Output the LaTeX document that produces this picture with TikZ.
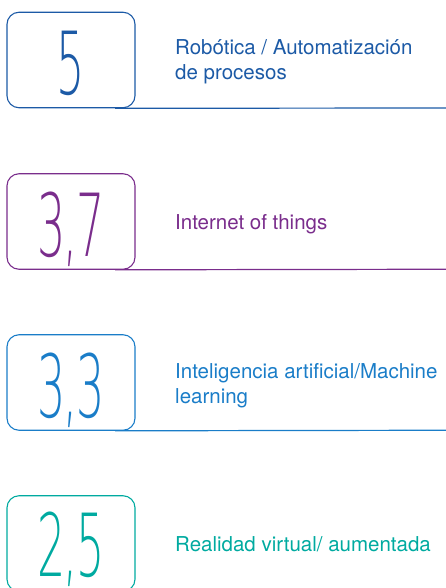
\documentclass[tikz,border=0pt]{standalone}
\usepackage{fontspec}
\usepackage{graphicx}
\setmainfont{TeX Gyre Heros}
\IfFontExistsTF{FiraSans-Thin.otf}
  {\newfontfamily\numfont{FiraSans-Thin.otf}}
  {\IfFontExistsTF{DejaVuSans-ExtraLight.ttf}
    {\newfontfamily\numfont{DejaVuSans-ExtraLight.ttf}}
    {\newfontfamily\numfont{Liberation Sans}}}
\newfontfamily\labfont{TeX Gyre Heros}
\definecolor{cA}{HTML}{1C5AA6}
\definecolor{cB}{HTML}{7A2D8C}
\definecolor{cC}{HTML}{1A7DC8}
\definecolor{cD}{HTML}{00AAA0}
\newcommand{\bignum}[1]{\scalebox{0.51}[1]{\numfont\fontsize{87}{87}\selectfont #1}}
\newcommand{\cm}{\kern-4pt,\kern-4pt}
\tikzset{
  numbox/.style={draw, line width=1.1pt, rounded corners=12pt, minimum width=128pt,
    minimum height=95.5pt, inner sep=0pt},
  num/.style={anchor=base, inner sep=0pt},
  lab/.style={anchor=base west, inner sep=0pt, align=left,
    font=\labfont\fontsize{20.5}{25}\selectfont},
  rule/.style={line width=1.2pt}
}
\begin{document}
\begin{tikzpicture}[x=1pt,y=-1pt]
\useasboundingbox (0,0) rectangle (446,588);
\clip (0,0) rectangle (446,588);
% row 1
\node[numbox, draw=cA] (b1) at (71,60) {};
\node[num, text=cA] (n1) at ([yshift=-35pt]b1.center) {\bignum{5}};
\node[lab, text=cA] (t1) at (175,80) {Robótica / Automatización\\de procesos};
\coordinate (e1) at (446,108);
\draw[rule, cA] ([xshift=44pt]b1.south) -- (e1);
% row 2
\node[numbox, draw=cB] (b2) at (71,221.5) {};
\node[num, text=cB] (n2) at ([yshift=-35pt]b2.center) {\bignum{3\cm7}};
\node[lab, text=cB] (t2) at (175,229) {Internet of things};
\coordinate (e2) at (446,269.25);
\draw[rule, cB] ([xshift=44pt]b2.south) -- (e2);
% row 3
\node[numbox, draw=cC] (b3) at (71,382.5) {};
\node[num, text=cC] (n3) at ([yshift=-35pt]b3.center) {\bignum{3\cm3}};
\node[lab, text=cC] (t3) at (175,403) {Inteligencia artificial/Machine\\learning};
\coordinate (e3) at (446,430.25);
\draw[rule, cC] ([xshift=44pt]b3.south) -- (e3);
% row 4
\node[numbox, draw=cD] (b4) at (71,543.5) {};
\node[num, text=cD] (n4) at ([yshift=-33pt]b4.center) {\bignum{2\cm5}};
\node[lab, text=cD] (t4) at (175,551.5) {Realidad virtual/ aumentada};
\end{tikzpicture}
\end{document}
